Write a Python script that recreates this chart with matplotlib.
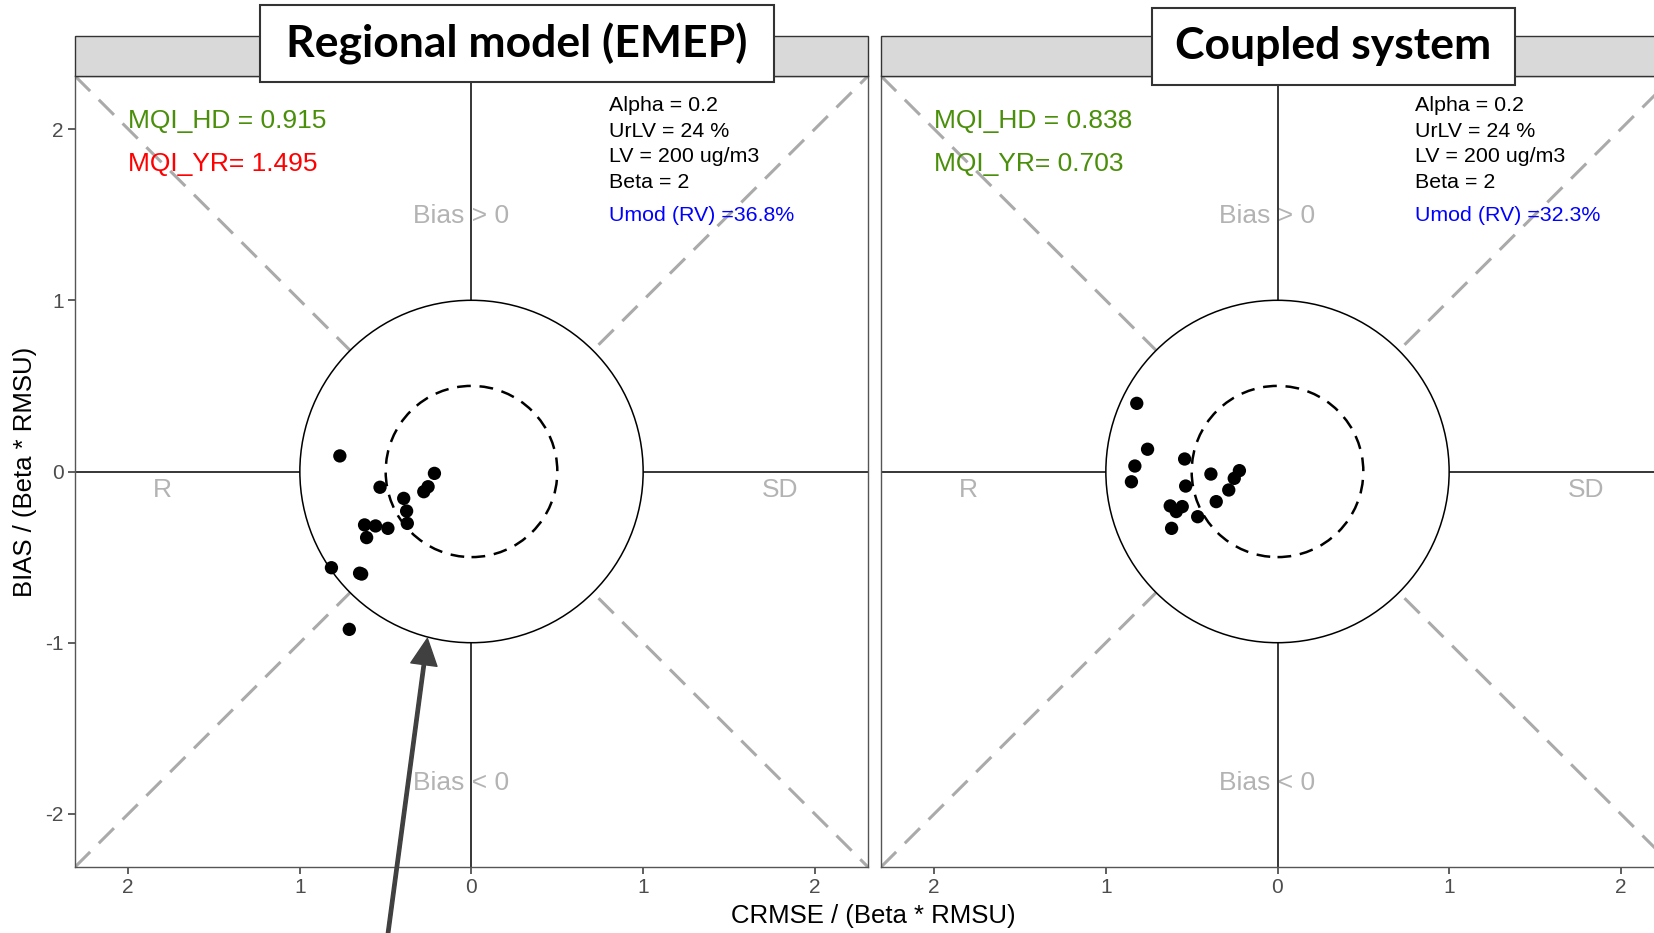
import matplotlib
matplotlib.use("Agg")
import matplotlib.pyplot as plt
import numpy as np
from matplotlib.patches import Circle, Rectangle

W, H = 1654, 933

panel_titles = ["Regional model (EMEP)", "Coupled system"]
mqi_hd = ["MQI_HD = 0.915", "MQI_HD = 0.838"]
mqi_yr = ["MQI_YR= 1.495", "MQI_YR= 0.703"]
mqi_yr_colors = ["#ff0000", "#4a8f0a"]
umod = ["Umod (RV) =36.8%", "Umod (RV) =32.3%"]
params = ["Alpha = 0.2", "UrLV = 24 %", "LV = 200 ug/m3", "Beta = 2"]

# CRMSE (negative side = R dominated), BIAS, both normalised by Beta*RMSU
emep_x = [-0.767, -0.216, -0.253, -0.278, -0.533, -0.395, -0.378, -0.374,
          -0.623, -0.559, -0.487, -0.611, -0.816, -0.640, -0.652, -0.712]
emep_y = [0.091, -0.011, -0.089, -0.118, -0.092, -0.157, -0.231, -0.303,
          -0.312, -0.318, -0.332, -0.386, -0.562, -0.599, -0.594, -0.922]
coupled_x = [-0.820, -0.757, -0.831, -0.851, -0.541, -0.388, -0.222, -0.252,
             -0.284, -0.535, -0.357, -0.625, -0.555, -0.590, -0.465, -0.617]
coupled_y = [0.398, 0.130, 0.032, -0.060, 0.073, -0.015, 0.005, -0.040,
             -0.108, -0.085, -0.176, -0.201, -0.205, -0.234, -0.264, -0.332]

ticks = [-2, -1, 0, 1, 2]
tick_labels_x = ["2", "1", "0", "1", "2"]
tick_labels_y = ["-2", "-1", "0", "1", "2"]
lim = 2.31

green = "#4a8f0a"
label_grey = "#b3b3b3"

fig = plt.figure(figsize=(W / 100, H / 100), dpi=100)
plt.rcParams["font.family"] = ["Liberation Sans", "DejaVu Sans"]

panel_left_px = [75, 881]
panel_w_px = 793
panel_top_px, panel_bot_px = 76, 867

axes = []
for i, (xs, ys) in enumerate([(emep_x, emep_y), (coupled_x, coupled_y)]):
    left = panel_left_px[i] / W
    ax = fig.add_axes([left, (H - panel_bot_px) / H, panel_w_px / W,
                       (panel_bot_px - panel_top_px) / H])
    ax.set_xlim(-lim, lim)
    ax.set_ylim(-lim, lim)
    for s in ax.spines.values():
        s.set_color("#555555")
        s.set_linewidth(1.0)

    # diagonals
    d = np.array([-lim, lim])
    dash = (0, (7, 4))
    ax.plot(d, d, color="#aaaaaa", lw=2.2, ls=dash, zorder=1)
    ax.plot(d, -d, color="#aaaaaa", lw=2.2, ls=dash, zorder=1)
    # axis cross
    ax.axhline(0, color="black", lw=1.1, zorder=1.5)
    ax.axvline(0, color="black", lw=1.1, zorder=1.5)
    # target circles
    ax.add_patch(Circle((0, 0), 1.0, facecolor="white", edgecolor="black",
                        lw=1.1, zorder=2))
    ax.add_patch(Circle((0, 0), 0.5, facecolor="none", edgecolor="black",
                        lw=1.8, ls=(0, (5.5, 3.5)), zorder=3))

    ax.text(-0.06, 1.49, "Bias > 0", color=label_grey, fontsize=19,
            ha="center", va="center", zorder=1.2)
    ax.text(-0.06, -1.82, "Bias < 0", color=label_grey, fontsize=19,
            ha="center", va="center", zorder=1.2)
    ax.text(-1.8, -0.11, "R", color=label_grey, fontsize=19,
            ha="center", va="center")
    ax.text(1.8, -0.11, "SD", color=label_grey, fontsize=19,
            ha="center", va="center")

    ax.text(-2.0, 2.045, mqi_hd[i], color=green, fontsize=19,
            ha="left", va="center", zorder=4)
    ax.text(-2.0, 1.795, mqi_yr[i], color=mqi_yr_colors[i], fontsize=19,
            ha="left", va="center", zorder=4)
    for k, p in enumerate(params):
        ax.text(0.80, 2.137 - 0.15 * k, p, color="black", fontsize=15.4,
                ha="left", va="center", zorder=4)
    ax.text(0.80, 1.493, umod[i], color="#0000ff", fontsize=15.4,
            ha="left", va="center", zorder=4)

    ax.scatter(xs, ys, s=92, color="black", edgecolors="none", zorder=5)

    ax.set_xticks(ticks)
    ax.set_xticklabels(tick_labels_x)
    ax.set_yticks(ticks)
    ax.set_yticklabels(tick_labels_y)
    ax.tick_params(length=5, width=1.1, color="#333333", labelcolor="#4d4d4d",
                   labelsize=15, pad=3)
    if i == 1:
        ax.tick_params(axis="y", left=False, labelleft=False)
    axes.append(ax)

    # facet strip
    fig.add_artist(Rectangle((left, (H - panel_top_px) / H), panel_w_px / W,
                             40 / H, transform=fig.transFigure,
                             facecolor="#d9d9d9", edgecolor="#333333", lw=1.0))

# title boxes over the strips
boxes = [(260, 5, 514, 77), (1152, 8, 363, 77)]
for (bx, by, bw, bh), title in zip(boxes, panel_titles):
    fig.add_artist(Rectangle((bx / W, (H - by - bh) / H), bw / W, bh / H,
                             transform=fig.transFigure, facecolor="white",
                             edgecolor="#333333", lw=1.5, zorder=10))
    fig.text((bx + bw / 2) / W, (H - by - bh / 2) / H, title,
             family=["Lato", "DejaVu Sans"], weight="bold", fontsize=32,
             ha="center", va="center", zorder=11)

# arrow pointing at the edge of the outer circle
axes[0].annotate("", xy=(-0.257, -0.975), xytext=(-0.50, -2.80),
                 arrowprops=dict(width=2.4, headwidth=19, headlength=19,
                                 color="#404040", shrink=0),
                 annotation_clip=False, zorder=6)

fig.text(873 / W, (H - 915.6) / H, "CRMSE / (Beta * RMSU)", fontsize=18.5,
         ha="center", va="center")
fig.text(25 / W, (H - 471.5) / H, "BIAS / (Beta * RMSU)", fontsize=18.5,
         rotation=90, ha="center", va="center")

fig.savefig("out.png", dpi=100)
